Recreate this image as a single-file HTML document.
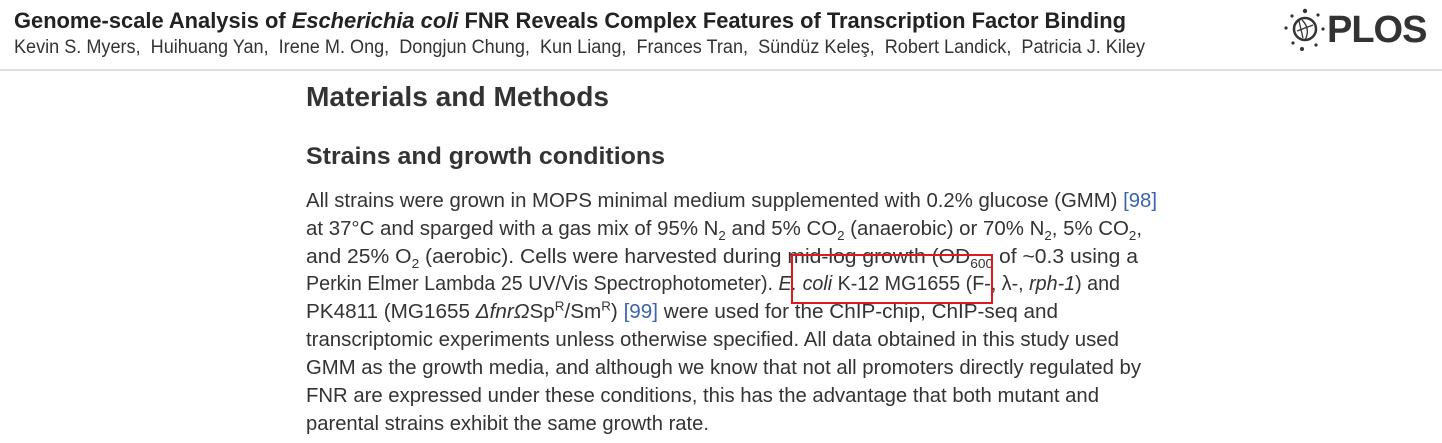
<!DOCTYPE html>
<html><head><meta charset="utf-8">
<style>
html,body{margin:0;padding:0;background:#fff;width:1442px;height:443px;overflow:hidden;font-family:"Liberation Sans",Arial,sans-serif;color:#333}
.l{position:absolute;white-space:nowrap;transform-origin:0 50%;line-height:1}
.b{font-size:20px;color:#333}
sub,sup{font-size:13px;line-height:0}
a{color:#3c63af;text-decoration:none}
</style></head><body>
<div class="l" data-w="1112" style="left:14px;top:10px;font-size:22px;font-weight:bold;color:#222">Genome-scale Analysis of <i>Escherichia coli</i> FNR Reveals Complex Features of Transcription Factor Binding</div>
<div class="l" data-w="1131" style="left:14px;top:38px;font-size:19px;color:#333">Kevin S. Myers,&nbsp; Huihuang Yan,&nbsp; Irene M. Ong,&nbsp; Dongjun Chung,&nbsp; Kun Liang,&nbsp; Frances Tran,&nbsp; Sündüz Keleş,&nbsp; Robert Landick,&nbsp; Patricia J. Kiley</div>
<div style="position:absolute;left:0;top:69px;width:1442px;height:2px;background:#ddd"></div>
<div style="position:absolute;left:1283px;top:5px;width:150px;height:46px">
<svg width="50" height="46" viewBox="0 0 50 46" style="position:absolute;left:0;top:0">
<circle cx="22" cy="24" r="11" fill="none" stroke="#333" stroke-width="2.5"/>
<path d="M16 16 L20 33 M14 26 L30 20 M19 15 Q28 24 22 35" fill="none" stroke="#333" stroke-width="1.3"/>
<circle cx="22" cy="6" r="2.2" fill="#333"/><circle cx="9" cy="11" r="1.6" fill="#333"/><circle cx="35" cy="10" r="1.6" fill="#333"/>
<circle cx="3" cy="23" r="1.6" fill="#333"/><circle cx="40" cy="24" r="1.6" fill="#333"/><circle cx="10" cy="38" r="1.6" fill="#333"/>
<circle cx="19" cy="44" r="2" fill="#333"/><circle cx="33" cy="40" r="1.6" fill="#333"/>
</svg>
<div style="position:absolute;left:44px;top:4px;font-size:38px;font-weight:bold;color:#333;letter-spacing:-1px">PLOS</div>
</div>
<div class="l" data-w="303" style="left:306px;top:83px;font-size:28px;font-weight:bold;color:#333">Materials and Methods</div>
<div class="l" data-w="359" style="left:306px;top:145px;font-size:24px;font-weight:bold;color:#333">Strains and growth conditions</div>
<div>
<div class="l b" data-w="851" style="left:306px;top:191px">All strains were grown in MOPS minimal medium supplemented with 0.2% glucose (GMM) <a>[98]</a></div>
<div class="l b" data-w="836" style="left:306px;top:219px">at 37°C and sparged with a gas mix of 95% N<sub>2</sub> and 5% CO<sub>2</sub> (anaerobic) or 70% N<sub>2</sub>, 5% CO<sub>2</sub>,</div>
<div class="l b" data-w="832" style="left:306px;top:247px">and 25% O<sub>2</sub> (aerobic). Cells were harvested during mid-log growth (OD<sub>600</sub> of ~0.3 using a</div>
<div class="l b" data-w="814" style="left:306px;top:274px">Perkin Elmer Lambda 25 UV/Vis Spectrophotometer). <i>E. coli</i> K-12 MG1655 (F-, λ-, <i>rph-1</i>) and</div>
<div class="l b" data-w="752" style="left:306px;top:302px">PK4811 (MG1655 <i>ΔfnrΩ</i>Sp<sup>R</sup>/Sm<sup>R</sup>) <a>[99]</a> were used for the ChIP-chip, ChIP-seq and</div>
<div class="l b" data-w="813" style="left:306px;top:330px">transcriptomic experiments unless otherwise specified. All data obtained in this study used</div>
<div class="l b" data-w="835" style="left:306px;top:358px">GMM as the growth media, and although we know that not all promoters directly regulated by</div>
<div class="l b" data-w="793" style="left:306px;top:386px">FNR are expressed under these conditions, this has the advantage that both mutant and</div>
<div class="l b" data-w="403" style="left:306px;top:414px">parental strains exhibit the same growth rate.</div>
</div>
<div style="position:absolute;left:791px;top:254px;width:198px;height:46px;border:2px solid #e0191e"></div>
<script>
document.querySelectorAll('[data-w]').forEach(function(e){
  var w=e.getBoundingClientRect().width;var t=+e.getAttribute('data-w');
  e.style.transform='scaleX('+(t/w)+')';
});
</script>
</body></html>
